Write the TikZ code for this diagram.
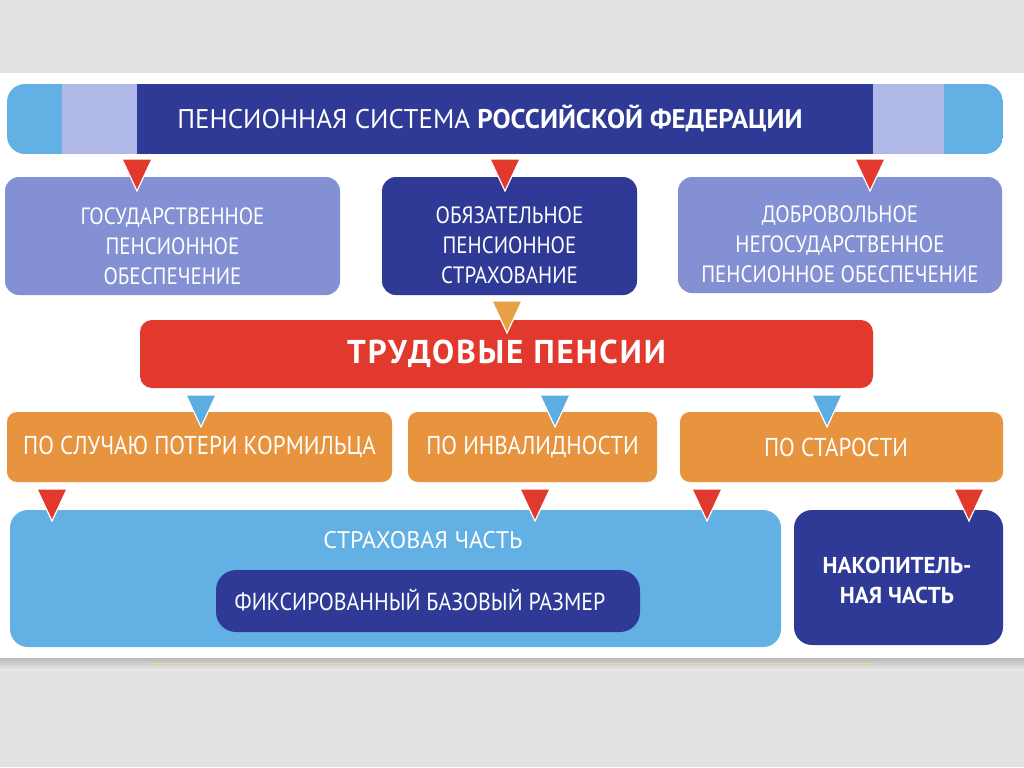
\documentclass[tikz,border=0pt]{standalone}
\usepackage{fontspec}
\setmainfont{PT Sans}
\newfontfamily\cond{PT Sans}[FakeStretch=0.89]
\usetikzlibrary{calc}
\definecolor{dblue}{HTML}{2E3A96}
\definecolor{lav}{HTML}{8390D4}
\definecolor{lblue}{HTML}{62B0E4}
\definecolor{lav2}{HTML}{AFB8E6}
\definecolor{tred}{HTML}{E2392E}
\definecolor{orng}{HTML}{E8933E}
\definecolor{torng}{HTML}{E8A046}
\definecolor{tblue}{HTML}{5AAEE2}
\definecolor{gray1}{HTML}{E2E2E2}
\definecolor{gray2}{HTML}{E9E9E9}
\tikzset{
  box/.style={rounded corners=7pt, text=white, align=center, inner sep=0pt},
  lbl/.style={text=white, align=center, inner sep=0pt},
  rowtwo/.style={lbl, font=\cond\fontsize{11.8}{15}\selectfont},
  orng text/.style={font=\cond\fontsize{12.9}{15}\selectfont},
  dtri/.pic={\path[pic actions, draw=white, line width=0.6pt] (-15,0) -- (15,0) -- (0,32) -- cycle;},
}
\begin{document}
\begin{tikzpicture}[x=0.5pt,y=-0.5pt]
\useasboundingbox (0,0) rectangle (1024,767);
% background
\fill[gray1] (0,0) rectangle (1024,767);
\fill[white] (0,73) rectangle (1024,658);
\shade[top color=gray!55, bottom color=gray2] (0,658) rectangle (1024,670);
\draw[yellow!60!brown!60, line width=0.5pt] (150,663) -- (874,663);
% top banner
\begin{scope}
  \clip[rounded corners=9pt] (7,84) rectangle (1003,154);
  \fill[lblue] (7,84) rectangle (1003,154);
  \fill[lav2] (62,84) rectangle (944,154);
  \fill[dblue] (137,84) rectangle (873,154);
\end{scope}
\node[lbl, font=\fontsize{13.5}{15}\selectfont] (top) at (490,118) {ПЕНСИОННАЯ СИСТЕМА \textbf{РОССИЙСКОЙ ФЕДЕРАЦИИ}};
% row 2
\node[box, fill=lav, minimum width=167.5pt, minimum height=59pt] (gos) at (172.5,236) {};
\node[rowtwo] (gost) at (172.5,246) {ГОСУДАРСТВЕННОЕ\\ПЕНСИОННОЕ\\ОБЕСПЕЧЕНИЕ};
\node[box, fill=dblue, minimum width=127.5pt, minimum height=59pt] (obz) at (509.5,236) {};
\node[rowtwo] (obzt) at (509.5,245) {ОБЯЗАТЕЛЬНОЕ\\ПЕНСИОННОЕ\\СТРАХОВАНИЕ};
\node[box, fill=lav, minimum width=162pt, minimum height=58pt] (dob) at (840,235) {};
\node[rowtwo] (dobt) at (840,244) {ДОБРОВОЛЬНОЕ\\НЕГОСУДАРСТВЕННОЕ\\ПЕНСИОННОЕ ОБЕСПЕЧЕНИЕ};
% red bar
\node[box, fill=tred, minimum width=366.5pt, minimum height=34pt, rounded corners=6pt, font=\fontsize{16.5}{18}\bfseries\selectfont] (trud) at (506.5,354) {\addfontfeatures{LetterSpace=6}ТРУДОВЫЕ ПЕНСИИ};
% orange row
\node[box, fill=orng, minimum width=192.5pt, minimum height=35pt, rounded corners=5pt, orng text] (kor) at (199.5,447) {ПО СЛУЧАЮ ПОТЕРИ КОРМИЛЬЦА};
\node[box, fill=orng, minimum width=124.5pt, minimum height=35pt, rounded corners=5pt, orng text] (inv) at (532.5,447) {ПО ИНВАЛИДНОСТИ};
\node[box, fill=orng, minimum width=161.5pt, minimum height=35pt, rounded corners=5pt] (sta) at (841.5,447) {};
\node[lbl, orng text] (stat) at (836,447) {ПО СТАРОСТИ};
% bottom
\node[box, fill=lblue, minimum width=385.5pt, minimum height=68.5pt, rounded corners=9pt] (strah) at (395.5,578.5) {};
\node[lbl, font=\fontsize{12}{14}\selectfont] (strahl) at (423,540) {СТРАХОВАЯ ЧАСТЬ};
\node[box, fill=dblue, minimum width=212pt, minimum height=31pt, rounded corners=10pt] (fix) at (428,601) {};
\node[lbl, font=\cond\fontsize{12.3}{14}\selectfont] (fixt) at (420,600) {ФИКСИРОВАННЫЙ БАЗОВЫЙ РАЗМЕР};
\node[box, fill=dblue, minimum width=104.5pt, minimum height=67.5pt, rounded corners=9pt] (nak) at (898.5,577.5) {};
\node[lbl, font=\fontsize{11.5}{15}\bfseries\selectfont] (nakt) at (897,580) {НАКОПИТЕЛЬ-\\НАЯ ЧАСТЬ};
% triangles
\pic[fill=tred] at (137,159) {dtri};
\pic[fill=tred] at (505,159) {dtri};
\pic[fill=tred] at (870,159) {dtri};
\pic[fill=torng] at (507,301) {dtri};
\pic[fill=tblue] at (201,395) {dtri};
\pic[fill=tblue] at (555,395) {dtri};
\pic[fill=tblue] at (827,395) {dtri};
\pic[fill=tred] at (52,489) {dtri};
\pic[fill=tred] at (535,489) {dtri};
\pic[fill=tred] at (707,489) {dtri};
\pic[fill=tred] at (969,489) {dtri};
\end{tikzpicture}
\end{document}
